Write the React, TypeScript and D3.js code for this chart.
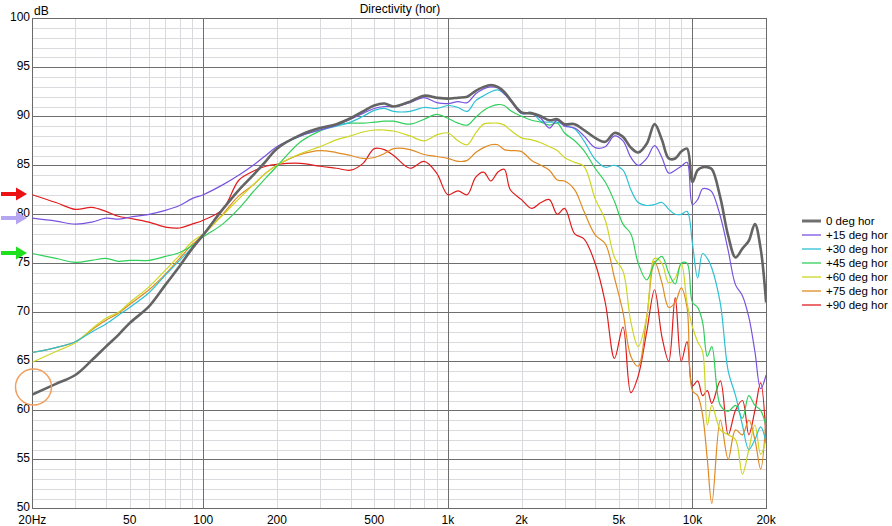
import React from 'react';
import * as d3 from 'd3';

const FREQS = [20,25,30,35,40,45,50,60,70,80,90,100,120,140,160,180,200,250,300,350,400,450,500,550,600,700,800,900,1000,1100,1200,1300,1400,1500,1600,1700,1800,2000,2200,2400,2600,2800,3000,3300,3600,4000,4400,4800,5200,5600,6000,6500,7000,7500,8000,8500,9000,9500,10000,10500,11000,11500,12000,13000,14000,15000,16000,17000,18000,19000,20000];

const DEG0 = [61.6,62.7,63.6,65.1,66.5,67.7,68.9,
  70.6,72.8,74.7,76.5,77.9,
  80.5,82.5,84.0,85.4,86.7,
  88.1,88.8,89.2,89.8,90.5,91.1,91.3,91.0,
  91.5,92.1,91.9,91.8,
  91.9,92.0,92.6,93.0,93.2,93.0,92.5,91.7,
  90.4,90.3,90.0,89.6,89.7,89.2,
  89.2,88.6,87.8,87.4,88.3,
  87.9,86.8,86.3,87.2,89.2,87.6,85.7,85.7,86.4,86.7,83.3,
  84.5,84.8,84.8,84.6,
  81.7,77.8,75.6,76.5,77.3,79.0,76.5,71.0];

const DEG15 = [79.6,79.3,79.0,79.2,79.6,79.5,79.7,
  80.0,80.4,80.9,81.6,82.0,
  83.0,84.0,85.0,86.0,86.9,
  88.0,88.6,89.1,89.7,90.3,90.8,91.0,91.0,
  91.4,91.9,91.4,91.3,
  91.5,91.4,92.3,92.8,93.0,92.9,92.3,91.6,
  90.3,90.3,89.8,88.8,89.6,89.0,
  88.8,88.0,86.8,86.9,88.0,
  87.5,85.8,85.0,85.7,87.0,85.8,84.2,84.5,84.9,85.3,81.0,
  81.5,82.6,82.6,82.3,
  79.8,76.3,72.8,71.7,69.5,66.0,62.2,63.6];

const DEG30 = [65.9,66.4,67.0,68.0,68.8,69.7,70.5,
  72.0,73.8,75.3,76.6,77.9,
  80.5,82.5,84.0,85.4,86.7,
  88.0,88.6,89.0,89.4,90.0,90.6,90.8,90.5,
  90.5,90.9,90.8,91.1,
  90.9,90.5,91.6,92.1,92.5,92.7,92.3,91.7,
  90.3,90.4,89.5,89.4,89.4,89.1,
  88.7,87.5,85.6,84.8,85.0,
  84.5,82.5,81.2,80.9,81.0,81.2,80.5,80.0,80.0,80.3,77.0,
  73.5,76.0,75.5,74.5,
  70.9,64.0,61.5,58.5,56.0,57.0,58.3,56.7];

const DEG45 = [76.0,75.5,75.1,75.3,75.5,75.2,75.3,
  75.3,75.7,76.1,76.8,77.7,
  79.0,80.6,82.3,83.7,84.9,
  87.4,88.5,89.1,89.3,89.3,89.4,89.5,89.5,
  89.2,89.7,90.2,89.8,
  89.3,89.1,89.9,90.6,91.0,91.2,91.1,90.6,
  90.0,89.6,89.4,89.1,89.3,88.3,
  87.5,86.5,84.7,83.3,81.3,
  79.0,78.0,75.0,73.3,75.0,75.7,74.0,72.9,75.0,75.0,71.0,
  70.5,69.0,65.5,66.5,
  60.5,59.9,60.5,59.2,61.5,60.5,60.0,58.3];

const DEG60 = [64.9,66.0,66.9,68.3,69.4,70.0,71.0,
  72.6,74.3,75.8,77.2,78.0,
  79.9,81.6,83.0,84.2,85.0,
  86.2,86.9,87.6,88.0,88.4,88.6,88.6,88.5,
  88.0,87.5,88.1,88.3,
  87.5,87.1,88.3,89.2,89.3,89.3,89.1,88.6,
  87.8,87.6,87.3,86.9,86.5,85.8,
  85.3,84.9,81.6,79.4,75.6,
  74.2,69.0,66.5,69.5,75.5,75.0,73.0,73.5,75.0,71.0,68.5,
  67.0,66.0,58.5,60.5,
  58.0,57.5,57.0,53.5,56.0,58.5,55.5,57.0];

const DEG75 = [65.9,66.4,67.0,68.2,69.2,69.9,70.8,
  72.3,73.9,75.5,76.9,77.9,
  80.0,81.9,83.0,84.2,85.0,
  86.1,86.5,86.3,86.0,85.7,85.8,86.2,86.7,
  86.6,86.1,85.9,85.7,
  85.4,85.5,86.3,86.8,87.1,87.1,86.6,86.5,
  86.4,85.5,85.0,84.5,83.5,83.4,
  82.5,80.3,77.9,77.0,73.5,
  70.0,65.5,64.5,69.5,75.2,73.0,70.5,71.0,72.5,70.5,62.0,
  61.5,59.5,55.0,50.5,
  59.0,55.0,58.0,57.5,59.0,57.0,54.0,59.5];

const DEG90 = [82.0,81.2,80.5,80.7,80.3,79.8,79.6,
  79.2,78.7,78.6,79.0,79.4,
  80.5,83.5,84.4,84.9,85.1,
  85.2,84.9,84.7,84.5,85.2,86.7,86.6,86.0,
  84.7,85.4,84.2,82.0,
  82.4,82.0,83.8,84.3,83.4,84.3,84.6,82.5,
  81.5,80.6,81.2,81.5,80.0,80.6,
  78.0,77.5,75.0,71.0,65.3,
  68.5,61.8,63.5,68.0,72.3,67.5,65.0,71.5,65.0,67.0,62.5,
  63.0,61.5,62.0,60.7,
  63.0,57.5,60.0,61.0,57.5,60.0,62.8,57.0];

const SERIES_NAMES = ['0 deg hor', '+15 deg hor', '+30 deg hor', '+45 deg hor', '+60 deg hor', '+75 deg hor', '+90 deg hor'];
const SERIES_VALUES = [DEG0, DEG15, DEG30, DEG45, DEG60, DEG75, DEG90];
const SERIES_COLORS = ['#646464', '#7a52e0', '#2cc0d4', '#30d05a', '#cdd622', '#e08a22', '#e01c1c'];

const Y_TICKS = [50, 55, 60, 65, 70, 75, 80, 85, 90, 95, 100];
const X_TICKS = [20, 50, 100, 200, 500, 1000, 2000, 5000, 10000, 20000];
const X_TICK_LABELS = ['20Hz', '50', '100', '200', '500', '1k', '2k', '5k', '10k', '20k'];
const MAJOR_X = [100, 1000, 10000];

const FONT = "'Liberation Sans', Arial, sans-serif";

export default function App() {
  const W = 892, H = 526;
  const L = 32.3, R = 766.1, T = 18.3, B = 508.3;
  const x = d3.scaleLog().domain([20, 20000]).range([L, R]);
  const y = d3.scaleLinear().domain([50, 100]).range([B, T]);
  const snap = (v: number) => Math.round(v) + 0.5;

  const minorX: number[] = [];
  for (const dec of [10, 100, 1000, 10000]) {
    for (let k = 1; k <= 9; k++) {
      const f = dec * k;
      if (f > 20 && f < 20000 && !MAJOR_X.includes(f)) minorX.push(f);
    }
  }
  const minorY: number[] = [];
  for (let v = 51; v < 100; v++) if (v % 5 !== 0) minorY.push(v);
  const majorY = Y_TICKS.filter(v => v > 50 && v < 100);

  const line = d3.line<[number, number]>()
    .x(d => x(d[0]))
    .y(d => y(d[1]))
    .curve(d3.curveCatmullRom.alpha(0.5));

  const order = [6, 5, 4, 3, 2, 1, 0];

  const arrow = (cy: number, color: string) => {
    const pts = [[1, cy - 2], [16, cy - 2], [16, cy - 6.5], [27, cy], [16, cy + 6.5], [16, cy + 2], [1, cy + 2]];
    return <polygon points={pts.map(p => p.join(',')).join(' ')} fill={color} />;
  };

  return (
    <svg width={W} height={H} style={{ position: 'absolute', left: 0, top: 0, background: '#fff' }} fontFamily={FONT}>
      <rect x={0} y={0} width={W} height={H} fill="#fff" />
      <defs>
        <clipPath id="plotclip">
          <rect x={L} y={T} width={R - L} height={B - T} />
        </clipPath>
      </defs>
      <g shapeRendering="crispEdges">
        {minorY.map(v => (
          <line key={'my' + v} x1={L} x2={R} y1={snap(y(v))} y2={snap(y(v))} stroke="#d9d9de" strokeWidth={1} />
        ))}
        {minorX.map(f => (
          <line key={'mx' + f} x1={snap(x(f))} x2={snap(x(f))} y1={T} y2={B} stroke="#d9d9de" strokeWidth={1} />
        ))}
        {majorY.map(v => (
          <line key={'My' + v} x1={L} x2={R} y1={snap(y(v))} y2={snap(y(v))} stroke="#6e6e6e" strokeWidth={1} />
        ))}
        {MAJOR_X.map(f => (
          <line key={'Mx' + f} x1={snap(x(f))} x2={snap(x(f))} y1={T} y2={B} stroke="#6e6e6e" strokeWidth={1} />
        ))}
        <rect x={snap(L)} y={snap(T)} width={Math.round(R - L)} height={Math.round(B - T)} fill="none" stroke="#6a6a6a" strokeWidth={1} />
      </g>
      <g clipPath="url(#plotclip)">
        {order.map(i => {
          const pts = FREQS.map((f, j) => [f, SERIES_VALUES[i][j]] as [number, number]);
          return (
            <path key={SERIES_NAMES[i]} d={line(pts) || ''} fill="none" stroke={SERIES_COLORS[i]}
              strokeWidth={i === 0 ? 2.6 : 1.2} strokeLinejoin="round" />
          );
        })}
      </g>
      {Y_TICKS.map(v => (
        <text key={'yt' + v} x={30} y={y(v) + 2.5} textAnchor="end" fontSize={12} fill="#000">{v}</text>
      ))}
      {X_TICKS.map((f, i) => (
        <text key={'xt' + f} x={x(f)} y={523.5} textAnchor="middle" fontSize={12} fill="#000">{X_TICK_LABELS[i]}</text>
      ))}
      <text x={34} y={15} fontSize={12} fill="#000">dB</text>
      <text x={400} y={13} textAnchor="middle" fontSize={12} fill="#000">Directivity (hor)</text>
      {SERIES_NAMES.map((n, i) => (
        <g key={'lg' + n}>
          <line x1={802} x2={821} y1={221 + i * 14} y2={221 + i * 14} stroke={i === 0 ? '#707070' : SERIES_COLORS[i]} strokeWidth={i === 0 ? 3 : 1.3} />
          <text x={826} y={225 + i * 14} fontSize={11.5} fill="#000">{n}</text>
        </g>
      ))}
      {arrow(194, '#ea1212')}
      {arrow(218, '#b6a6f2')}
      {arrow(253, '#1ee01e')}
      <circle cx={33.5} cy={387} r={18} fill="none" stroke="#f0a060" strokeWidth={1.5} />
    </svg>
  );
}
